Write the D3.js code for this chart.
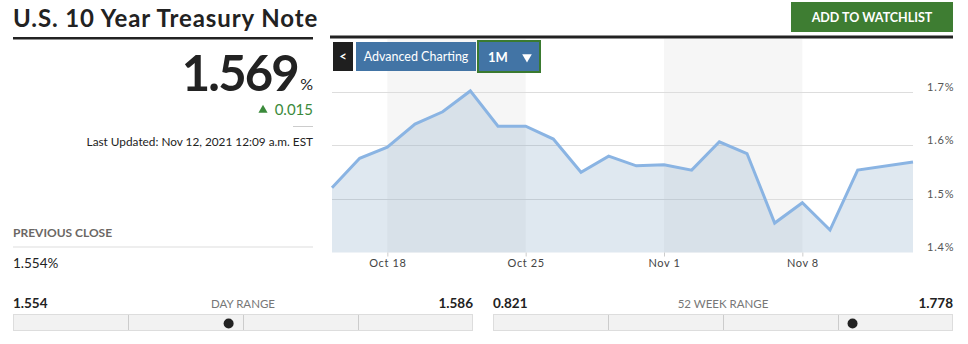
<!DOCTYPE html>
<html>
<head>
<meta charset="utf-8">
<script src="https://cdn.jsdelivr.net/npm/d3@7"></script>
<style>
  html, body { margin: 0; padding: 0; background: #fff; }
  svg { display: block; font-family: Lato, "Open Sans", sans-serif; }
</style>
</head>
<body>
<svg id="chart" width="968" height="344"></svg>
<script>
// trading days shown on the x axis (Nov 11 is a bond market holiday, no quote)
const tradingDays = ["2021-10-14", "2021-10-15", "2021-10-18", "2021-10-19", "2021-10-20", "2021-10-21",
    "2021-10-22", "2021-10-25", "2021-10-26", "2021-10-27", "2021-10-28", "2021-10-29",
    "2021-11-01", "2021-11-02", "2021-11-03", "2021-11-04", "2021-11-05", "2021-11-08",
    "2021-11-09", "2021-11-10", "2021-11-11", "2021-11-12"];
const quoteDates = ["2021-10-14", "2021-10-15", "2021-10-18", "2021-10-19", "2021-10-20", "2021-10-21",
    "2021-10-22", "2021-10-25", "2021-10-26", "2021-10-27", "2021-10-28", "2021-10-29",
    "2021-11-01", "2021-11-02", "2021-11-03", "2021-11-04", "2021-11-05", "2021-11-08",
    "2021-11-09", "2021-11-10", "2021-11-12"];
const yields = [1.521, 1.576, 1.597, 1.640, 1.663, 1.702, 1.636, 1.636, 1.612, 1.550, 1.580, 1.562,
    1.564, 1.554, 1.607, 1.585, 1.455, 1.493, 1.442, 1.554, 1.569];
const xTickDates = ["2021-10-18", "2021-10-25", "2021-11-01", "2021-11-08"];
const xTickLabels = ["Oct 18", "Oct 25", "Nov 1", "Nov 8"];
const yTicks = [1.4, 1.5, 1.6, 1.7];
const shadedWeeks = [["2021-10-18", "2021-10-25"], ["2021-11-01", "2021-11-08"]];

const lastYield = 1.569;
const change = 0.015;
const previousClose = 1.554;
const dayRange = [1.554, 1.586];
const weekRange52 = [0.821, 1.778];

const svg = d3.select("#chart");

// ---------- left quote panel ----------
svg.append("text").attr("x", 13).attr("y", 27)
    .attr("font-size", 24).attr("font-weight", 700).attr("fill", "#222").attr("letter-spacing", 0.9)
    .text("U.S. 10 Year Treasury Note");
svg.append("rect").attr("x", 13).attr("y", 37).attr("width", 300).attr("height", 2.5).attr("fill", "#222");

svg.append("text").attr("x", 298).attr("y", 91).attr("text-anchor", "end")
    .attr("font-size", 49).attr("font-weight", 700).attr("fill", "#222").attr("letter-spacing", -1.8)
    .text(lastYield.toFixed(3));
svg.append("text").attr("x", 313).attr("y", 90).attr("text-anchor", "end")
    .attr("font-size", 16).attr("fill", "#222").text("%");

svg.append("path")
    .attr("d", d3.symbol(d3.symbolTriangle, 36)())
    .attr("transform", "translate(263,110)")
    .attr("fill", "#3b8a3b");
svg.append("text").attr("x", 313).attr("y", 115).attr("text-anchor", "end")
    .attr("font-size", 15).attr("fill", "#3b8a3b").text(change.toFixed(3));
svg.append("line").attr("x1", 293).attr("x2", 313).attr("y1", 126.5).attr("y2", 126.5)
    .attr("stroke", "#ccc");
svg.append("text").attr("x", 313).attr("y", 146).attr("text-anchor", "end")
    .attr("font-size", 11.8).attr("fill", "#222").text("Last Updated: Nov 12, 2021 12:09 a.m. EST");

svg.append("text").attr("x", 13).attr("y", 237).attr("font-size", 12).attr("font-weight", 700)
    .attr("fill", "#6b6764").text("PREVIOUS CLOSE");
svg.append("line").attr("x1", 13).attr("x2", 313).attr("y1", 247).attr("y2", 247).attr("stroke", "#ddd");
svg.append("text").attr("x", 13).attr("y", 268).attr("font-size", 13.5).attr("fill", "#222")
    .text(previousClose.toFixed(3) + "%");

function rangeBar(x0, x1, range, label) {
    const g = svg.append("g");
    const sx = d3.scaleLinear().domain(range).range([x0, x1]);
    g.append("text").attr("x", x0).attr("y", 308).attr("font-size", 13.5).attr("font-weight", 700)
        .attr("fill", "#222").text(range[0].toFixed(3));
    g.append("text").attr("x", x1).attr("y", 308).attr("text-anchor", "end").attr("font-size", 13.5)
        .attr("font-weight", 700).attr("fill", "#222").text(range[1].toFixed(3));
    g.append("text").attr("x", (x0 + x1) / 2).attr("y", 307.5).attr("text-anchor", "middle")
        .attr("font-size", 11.5).attr("fill", "#777").text(label);
    g.append("rect").attr("x", x0 + 0.5).attr("y", 314.5).attr("width", x1 - x0 - 1).attr("height", 16)
        .attr("fill", "#f2f2f2").attr("stroke", "#ddd");
    [0.25, 0.5, 0.75].forEach(f => {
        const xx = Math.round(x0 + f * (x1 - x0)) + 0.5;
        g.append("line").attr("x1", xx).attr("x2", xx).attr("y1", 315).attr("y2", 330)
            .attr("stroke", "#ccc");
    });
    g.append("circle").attr("cx", sx(lastYield)).attr("cy", 323.5).attr("r", 5).attr("fill", "#222");
}
rangeBar(13, 473, dayRange, "DAY RANGE");
rangeBar(493, 953, weekRange52, "52 WEEK RANGE");

// ---------- watchlist button ----------
svg.append("rect").attr("x", 791).attr("y", 2).attr("width", 162).attr("height", 30).attr("fill", "#3e7d32");
svg.append("text").attr("x", 872).attr("y", 21.5).attr("text-anchor", "middle")
    .attr("font-size", 12.5).attr("font-weight", 700).attr("fill", "#fff").text("ADD TO WATCHLIST");

// ---------- chart ----------
const plotLeft = 332, plotRight = 913, plotTop = 39, plotBottom = 252.5;
const x = d3.scalePoint().domain(tradingDays).range([plotLeft, plotRight]);
const y = d3.scaleLinear().domain([1.4, 1.7]).range([plotBottom, 92]);

svg.selectAll(".week")
    .data(shadedWeeks)
    .enter()
    .append("rect")
    .attr("class", "week")
    .attr("x", d => x(d[0]))
    .attr("y", plotTop)
    .attr("width", d => x(d[1]) - x(d[0]))
    .attr("height", plotBottom - plotTop)
    .attr("fill", "#f6f6f6");

svg.selectAll(".grid")
    .data(yTicks.filter(v => v > 1.4))
    .enter()
    .append("line")
    .attr("class", "grid")
    .attr("x1", plotLeft).attr("x2", plotRight)
    .attr("y1", d => Math.round(y(d)) + 0.5)
    .attr("y2", d => Math.round(y(d)) + 0.5)
    .attr("stroke", "#ddd");

const points = quoteDates.map((d, i) => ({ d: d, v: yields[i] }));

const area = d3.area()
    .x(p => x(p.d))
    .y0(plotBottom)
    .y1(p => y(p.v));

const line = d3.line()
    .x(p => x(p.d))
    .y(p => y(p.v));

svg.append("path")
    .datum(points)
    .attr("fill", "rgb(110,150,185)")
    .attr("fill-opacity", 0.22)
    .attr("d", area);

svg.append("path")
    .datum(points)
    .attr("fill", "none")
    .attr("stroke", "#8ab4e3")
    .attr("stroke-width", 3)
    .attr("stroke-linejoin", "miter")
    .attr("d", line);

// x axis
const xAxis = svg.append("g")
    .attr("transform", `translate(0,${plotBottom})`)
    .call(d3.axisBottom(x).tickValues(xTickDates)
        .tickFormat(d => xTickLabels[xTickDates.indexOf(d)])
        .tickSize(4).tickPadding(3));
xAxis.select(".domain").remove();
xAxis.selectAll(".tick line").attr("stroke", "#ccc");
xAxis.selectAll(".tick text").attr("font-family", "Lato, sans-serif").attr("font-size", 11)
    .attr("fill", "#444").attr("letter-spacing", 0.6);

// y axis
const yAxis = svg.append("g")
    .attr("transform", `translate(${plotRight},0)`)
    .call(d3.axisRight(y).tickValues(yTicks).tickFormat(v => v.toFixed(1) + "%")
        .tickSize(0).tickPadding(14));
yAxis.select(".domain").remove();
yAxis.selectAll(".tick text").attr("font-family", "Lato, sans-serif").attr("font-size", 11)
    .attr("fill", "#555").attr("letter-spacing", 0.8).attr("dy", "-0.15em");

// header line and chart controls
svg.append("rect").attr("x", 330).attr("y", 35.5).attr("width", 623).attr("height", 3).attr("fill", "#222");
svg.append("rect").attr("x", 333).attr("y", 42).attr("width", 20).attr("height", 29).attr("fill", "#1f1f1f");
svg.append("text").attr("x", 343).attr("y", 61).attr("text-anchor", "middle").attr("font-size", 13)
    .attr("font-weight", 700).attr("fill", "#fff").text("<");
svg.append("rect").attr("x", 356).attr("y", 42).attr("width", 120).attr("height", 29).attr("fill", "#4274a5");
svg.append("text").attr("x", 416).attr("y", 61).attr("text-anchor", "middle").attr("font-size", 12.5)
    .attr("fill", "#fff").text("Advanced Charting");
svg.append("rect").attr("x", 478).attr("y", 41).attr("width", 62).attr("height", 31)
    .attr("fill", "#4274a5").attr("stroke", "#3a7a30").attr("stroke-width", 2);
svg.append("text").attr("x", 498).attr("y", 62).attr("text-anchor", "middle").attr("font-size", 13)
    .attr("font-weight", 700).attr("fill", "#fff").text("1M");
svg.append("path")
    .attr("d", d3.symbol(d3.symbolTriangle, 40)())
    .attr("transform", "translate(527,57) rotate(180)")
    .attr("fill", "#fff");
</script>
</body>
</html>
